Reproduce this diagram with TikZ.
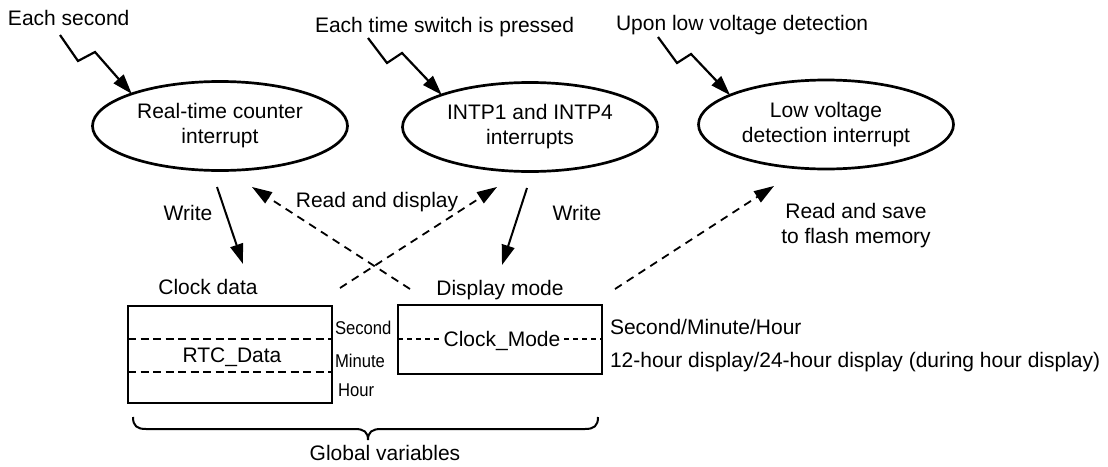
\documentclass[tikz,border=0pt]{standalone}
\usepackage{fontspec}
\setmainfont{Liberation Sans}
\usetikzlibrary{arrows.meta,shapes.geometric}
\begin{document}
\begin{tikzpicture}[x=1pt,y=-1pt,
  every node/.style={font=\fontsize{21}{25}\selectfont, inner sep=0pt, outer sep=0pt},
  intr/.style={ellipse, draw, line width=2.7pt, minimum width=255pt, minimum height=89pt, align=center},
  lbl/.style={anchor=base},
  lbll/.style={anchor=base west},
  small/.style={anchor=base west, font=\fontsize{18.5}{18.5}\selectfont},
  var/.style={draw, line width=2.6pt},
  sepa/.style={line width=2pt, dash pattern=on 8pt off 4.5pt},
  sepb/.style={line width=2pt, dash pattern=on 5pt off 4pt},
  tip/.style={-{Triangle[length=20pt,width=13pt]}},
  wr/.style={tip, line width=2pt},
  rd/.style={tip, line width=1.8pt, dash pattern=on 8pt off 6pt},
  bolt/.style={tip, line width=2.2pt, line join=miter},
]
\useasboundingbox (0,0) rectangle (1108,466);

% trigger labels
\node[lbll] (t1) at (8,25) {Each second};
\node[lbll] (t2) at (315,32) {Each time switch is pressed};
\node[lbll] (t3) at (616,30) {Upon low voltage detection};

% interrupts
\node[intr] (e1) at (220,126) {Real-time counter\\interrupt};
\node[intr] (e2) at (530,127) {INTP1 and INTP4\\interrupts};
\node[intr] (e3) at (826,124.5) {Low voltage\\detection interrupt};

% lightning arrows
\coordinate (b1a) at (60,35);  \coordinate (b1b) at (78,61);  \coordinate (b1c) at (95,52);
\coordinate (b2a) at (368,38); \coordinate (b2b) at (387,63); \coordinate (b2c) at (402,53);
\coordinate (b3a) at (658,37); \coordinate (b3b) at (677,63); \coordinate (b3c) at (691,54);
\draw[bolt] (b1a) -- (b1b) -- (b1c) -- (e1.160);
\draw[bolt] (b2a) -- (b2b) -- (b2c) -- (e2.160);
\draw[bolt] (b3a) -- (b3b) -- (b3c) -- (e3.163);

% variables
\node[lbl] (cdl) at (208,294) {Clock data};
\node[lbl] (dml) at (500,295) {Display mode};
\node[var, minimum width=204pt, minimum height=97pt] (cd) at (230,354.5) {};
\node[var, minimum width=204pt, minimum height=69pt] (dm) at (500,339.5) {};

\coordinate (s1) at (0,339);
\coordinate (s2) at (0,372);
\draw[sepa] (cd.west |- s1) -- (cd.east |- s1);
\draw[sepa] (cd.west |- s2) -- (cd.east |- s2);
\node[lbl] (rtc) at (232,362) {RTC\_Data};

\node[lbl, inner xsep=4pt] (cm) at (502,346) {Clock\_Mode};
\draw[sepb] (dm.west |- s1) -- (cm.west |- s1);
\draw[sepb] (cm.east |- s1) -- (dm.east |- s1);

\node[small] (sec) at (335,334) {\scalebox{0.9}[1]{Second}};
\node[small] (min) at (335,367) {\scalebox{0.9}[1]{Minute}};
\node[small] (hr)  at (338,396) {\scalebox{0.9}[1]{Hour}};

\node[lbll] (m1) at (610,334) {Second/Minute/Hour};
\node[lbll] (m2) at (610,367) {12-hour display/24-hour display (during hour display)};

% access arrows
\coordinate (w1s) at (217,187); \coordinate (w1e) at (243,264);
\coordinate (r1s) at (410,289); \coordinate (r1e) at (252,187);
\coordinate (r2s) at (340,288); \coordinate (r2e) at (497,187);
\coordinate (w2s) at (527,188); \coordinate (w2e) at (502,265);
\coordinate (r3s) at (615,289); \coordinate (r3e) at (774,186);
\draw[wr] (w1s) -- (w1e);
\draw[rd] (r1s) -- (r1e);
\draw[rd] (r2s) -- (r2e);
\draw[wr] (w2s) -- (w2e);
\draw[rd] (r3s) -- (r3e);

\node[lbl] (lw1) at (188,220) {Write};
\node[lbl] (lw2) at (577,220) {Write};
\node[lbl] (lrd) at (377,207) {Read and display};
\node[lbl, align=center] (lrs) at (856,243) {Read and save\\to flash memory};

% brace
\draw[line width=2pt] (133,417) .. controls (133,426) and (137,429) .. (146,429) -- (355,429)
  .. controls (364,429) and (368,432) .. (368,440)
  .. controls (368,432) and (372,429) .. (381,429) -- (585,429)
  .. controls (594,429) and (598,426) .. (598,417);
\node[lbl] (gv) at (385,460) {Global variables};
\end{tikzpicture}
\end{document}
